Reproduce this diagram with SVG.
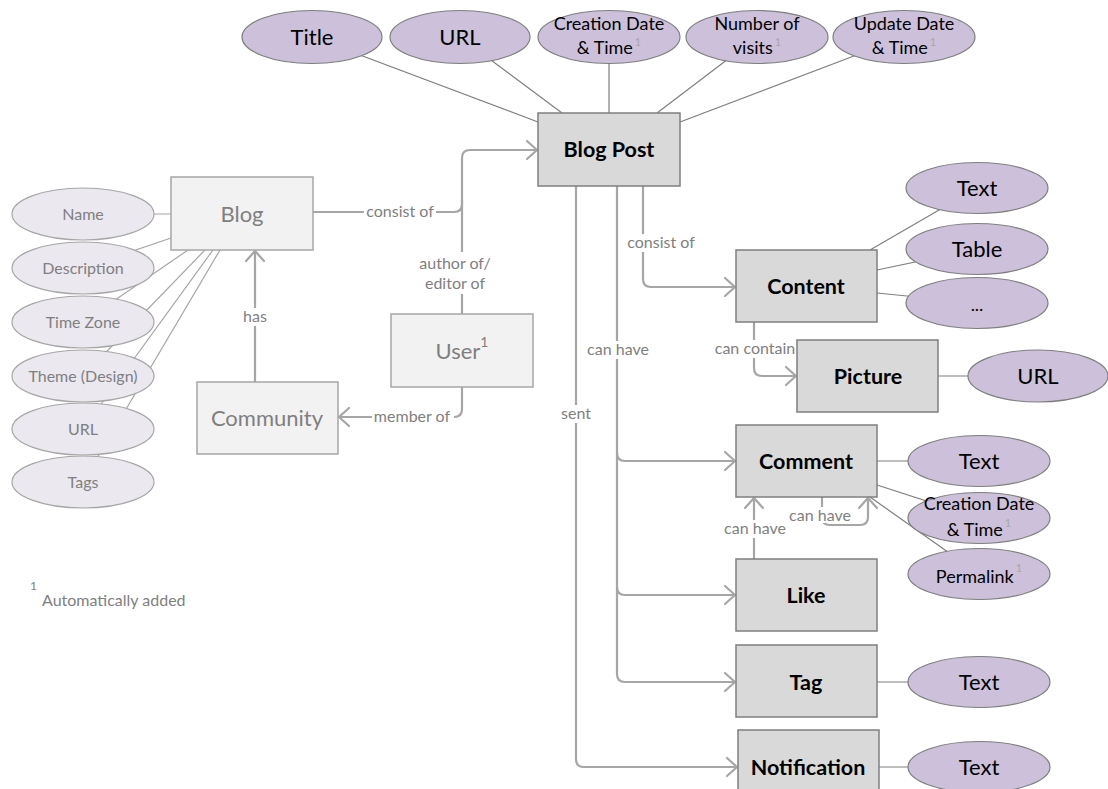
<svg xmlns="http://www.w3.org/2000/svg" width="1108" height="789" viewBox="0 0 1108 789">
<defs>
<marker id="arr" markerUnits="userSpaceOnUse" markerWidth="24" markerHeight="24" refX="0" refY="0" viewBox="-12 -12 24 24" orient="auto" overflow="visible">
<path d="M-10,-9 L0,0 L-10,9" fill="none" stroke="#a6a6a6" stroke-width="2.2" stroke-linecap="round" stroke-linejoin="round"/>
</marker>
</defs>
<style>
text{font-family:Lato,"Liberation Sans",sans-serif}
.conn{fill:none;stroke:#a6a6a6;stroke-width:2.2}
.arr{marker-end:url(#arr)}
.attr{fill:none;stroke:#7f7f7f;stroke-width:1.2}
.attrl{fill:none;stroke:#a6a6a6;stroke-width:1.2}
.ent{fill:#d9d9d9;stroke:#7f7f7f;stroke-width:1.5}
.entl{fill:#f2f2f2;stroke:#a6a6a6;stroke-width:1.5}
.att{fill:#ccc0da;stroke:#7f7f7f;stroke-width:1.2}
.attl{fill:#ebe8f0;stroke:#a6a6a6;stroke-width:1.2}
.lblbg{fill:#ffffff}
.lbl{font-size:16px;fill:#7f7f7f;text-anchor:middle}
.tb{font-size:21.5px;font-weight:bold;fill:#000;text-anchor:middle}
.tg{font-size:22px;fill:#7f7f7f;text-anchor:middle}
.ta{font-size:22px;fill:#000;text-anchor:middle}
.ta2{font-size:18px;fill:#000;text-anchor:middle}
.tl{font-size:16px;fill:#7f7f7f;text-anchor:middle}
.sup{font-size:11px;fill:#a6a6a6}
</style>

<g id="connectors">
<path class="attr" d="M312,37 L538,122 M460,37 L562,113 M609,37 L609,113 M757,37 L657,113 M904,37 L680,122"/>
<path class="attrl" d="M83,214 L171,214 M171,238 L83,268 M188,250 L83,322 M205,250 L83,376 M213,250 L83,429 M220,250 L83,482"/>
<path class="attr" d="M870,250 L977,188 M877,270 L977,249 M877,293 L977,303 M938,376 L1038,376 M877,461 L979,461 M877,485 L979,518 M870,497 L979,574 M877,682 L979,682 M879,767 L979,767"/>
<path class="conn arr" d="M313,212 H454 Q462,212 462,204 V158 Q462,150 470,150 H537"/>
<path class="conn" d="M462,314 V200"/>
<path class="conn arr" d="M462,387 V409 Q462,417 454,417 H339"/>
<path class="conn arr" d="M255,382 V251"/>
<path class="conn arr" d="M643,186 V279 Q643,287 651,287 H735"/>
<path class="conn arr" d="M617,186 V674 Q617,682 625,682 H735"/>
<path class="conn arr" d="M617,453 Q617,461 625,461 H735"/>
<path class="conn arr" d="M617,587 Q617,595 625,595 H735"/>
<path class="conn arr" d="M576,186 V759 Q576,767 584,767 H737"/>
<path class="conn arr" d="M754,322 V368 Q754,376 762,376 H796"/>
<path class="conn arr" d="M754,559 V498"/>
<path class="conn arr" d="M822,497 V517 Q822,525 830,525 H860 Q868,525 868,517 V498"/>
<rect class="lblbg" x="364" y="203" width="72" height="18"/>
<text class="lbl" x="400" y="217">consist of</text>
<rect class="lblbg" x="418" y="252" width="76" height="42"/>
<text class="lbl" x="455" y="269">author of/</text>
<text class="lbl" x="455" y="289">editor of</text>
<rect class="lblbg" x="242" y="308" width="27" height="18"/>
<text class="lbl" x="255" y="322">has</text>
<rect class="lblbg" x="372" y="408" width="82" height="18"/>
<text class="lbl" x="412" y="422">member of</text>
<rect class="lblbg" x="626" y="234" width="71" height="18"/>
<text class="lbl" x="661" y="248">consist of</text>
<rect class="lblbg" x="586" y="341" width="64" height="18"/>
<text class="lbl" x="618" y="355">can have</text>
<rect class="lblbg" x="561" y="405" width="30" height="18"/>
<text class="lbl" x="576" y="419">sent</text>
<rect class="lblbg" x="713" y="340" width="84" height="18"/>
<text class="lbl" x="755" y="354">can contain</text>
<rect class="lblbg" x="787" y="507" width="66" height="16"/>
<text class="lbl" x="820" y="521">can have</text>
<rect class="lblbg" x="723" y="520" width="64" height="18"/>
<text class="lbl" x="755" y="534">can have</text>
</g>

<g id="blogpost">
<rect class="ent" x="538" y="113" width="142" height="73"/>
<text class="tb" x="609" y="157">Blog Post</text>
</g>
<g id="bp-title"><ellipse class="att" cx="312" cy="37" rx="70" ry="26.5"/><text class="ta" x="312" y="45">Title</text></g>
<g id="bp-url"><ellipse class="att" cx="460" cy="37" rx="70" ry="26.5"/><text class="ta" x="460" y="45">URL</text></g>
<g id="bp-created"><ellipse class="att" cx="609" cy="37" rx="71" ry="26.5"/><text class="ta2" x="609" y="30">Creation Date</text><text class="ta2" x="609" y="54">&amp; Time<tspan class="sup" dx="2" dy="-8">1</tspan></text></g>
<g id="bp-visits"><ellipse class="att" cx="757" cy="37" rx="71" ry="26.5"/><text class="ta2" x="757" y="30">Number of</text><text class="ta2" x="757" y="54">visits<tspan class="sup" dx="2" dy="-8">1</tspan></text></g>
<g id="bp-updated"><ellipse class="att" cx="904" cy="37" rx="71" ry="26.5"/><text class="ta2" x="904" y="30">Update Date</text><text class="ta2" x="904" y="54">&amp; Time<tspan class="sup" dx="2" dy="-8">1</tspan></text></g>

<g id="blog">
<rect class="entl" x="171" y="177" width="142" height="73"/>
<text class="tg" x="242" y="222">Blog</text>
</g>
<g id="blog-name"><ellipse class="attl" cx="83" cy="214" rx="71" ry="26"/><text class="tl" x="83" y="220">Name</text></g>
<g id="blog-desc"><ellipse class="attl" cx="83" cy="268" rx="71" ry="26"/><text class="tl" x="83" y="274">Description</text></g>
<g id="blog-tz"><ellipse class="attl" cx="83" cy="322" rx="71" ry="26"/><text class="tl" x="83" y="328">Time Zone</text></g>
<g id="blog-theme"><ellipse class="attl" cx="83" cy="376" rx="71" ry="26"/><text class="tl" x="83" y="382">Theme (Design)</text></g>
<g id="blog-url"><ellipse class="attl" cx="83" cy="429" rx="71" ry="26"/><text class="tl" x="83" y="435">URL</text></g>
<g id="blog-tags"><ellipse class="attl" cx="83" cy="482" rx="71" ry="26"/><text class="tl" x="83" y="488">Tags</text></g>

<g id="user">
<rect class="entl" x="391" y="314" width="142" height="73"/>
<text class="tg" x="462" y="359">User<tspan font-size="14" dy="-12">1</tspan></text>
</g>
<g id="community">
<rect class="entl" x="197" y="382" width="141" height="72"/>
<text class="tg" x="267" y="426">Community</text>
</g>

<g id="content">
<rect class="ent" x="736" y="250" width="141" height="72"/>
<text class="tb" x="806" y="294">Content</text>
</g>
<g id="content-text"><ellipse class="att" cx="977" cy="188" rx="71" ry="25.5"/><text class="ta" x="977" y="196">Text</text></g>
<g id="content-table"><ellipse class="att" cx="977" cy="249" rx="71" ry="25.5"/><text class="ta" x="977" y="257">Table</text></g>
<g id="content-more"><ellipse class="att" cx="977" cy="303" rx="71" ry="25.5"/><text class="ta2" x="977" y="311">...</text></g>

<g id="picture">
<rect class="ent" x="797" y="340" width="141" height="72"/>
<text class="tb" x="868" y="384">Picture</text>
</g>
<g id="picture-url"><ellipse class="att" cx="1038" cy="376" rx="70" ry="26"/><text class="ta" x="1038" y="384">URL</text></g>

<g id="comment">
<rect class="ent" x="736" y="425" width="141" height="72"/>
<text class="tb" x="806" y="469">Comment</text>
</g>
<g id="comment-text"><ellipse class="att" cx="979" cy="461" rx="71" ry="25.5"/><text class="ta" x="979" y="469">Text</text></g>
<g id="comment-created"><ellipse class="att" cx="979" cy="518" rx="71" ry="25.5"/><text class="ta2" x="979" y="510">Creation Date</text><text class="ta2" x="979" y="536">&amp; Time<tspan class="sup" dx="2" dy="-9">1</tspan></text></g>
<g id="comment-permalink"><ellipse class="att" cx="979" cy="574" rx="71" ry="25.5"/><text class="ta2" x="979" y="583">Permalink<tspan class="sup" dx="2" dy="-11">1</tspan></text></g>

<g id="like">
<rect class="ent" x="736" y="559" width="141" height="72"/>
<text class="tb" x="806" y="603">Like</text>
</g>

<g id="tag">
<rect class="ent" x="736" y="645" width="141" height="72"/>
<text class="tb" x="806" y="690">Tag</text>
</g>
<g id="tag-text"><ellipse class="att" cx="979" cy="682" rx="71" ry="25.5"/><text class="ta" x="979" y="690">Text</text></g>

<g id="notification">
<rect class="ent" x="738" y="730" width="141" height="72"/>
<text class="tb" x="808" y="775">Notification</text>
</g>
<g id="notification-text"><ellipse class="att" cx="979" cy="767" rx="71" ry="25.5"/><text class="ta" x="979" y="775">Text</text></g>

<g id="footnote">
<text x="30" y="590" font-size="12" fill="#7f7f7f">1</text>
<text x="42" y="606" font-size="16" fill="#7f7f7f">Automatically added</text>
</g>
</svg>
